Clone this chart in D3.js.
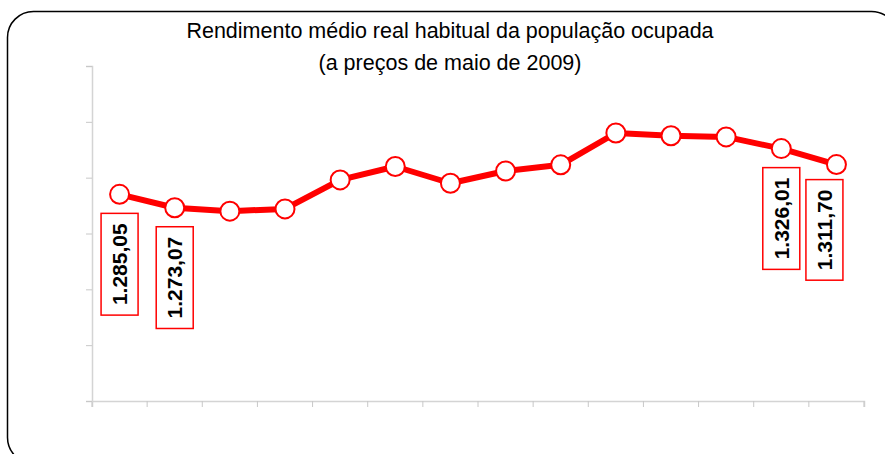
<!DOCTYPE html>
<html>
<head>
<meta charset="utf-8">
<script src="https://cdn.jsdelivr.net/npm/d3@7"></script>
<style>
  body { margin: 0; background: #fff; }
  svg { display: block; }
</style>
</head>
<body>
<div id="chart"></div>
<script>
// data
var titleLines = ["Rendimento médio real habitual da população ocupada", "(a preços de maio de 2009)"];
var periods = ["p1","p2","p3","p4","p5","p6","p7","p8","p9","p10","p11","p12","p13","p14"];
var values = [1285.05, 1273.07, 1270, 1272, 1298, 1310, 1295, 1306, 1311.5, 1340, 1337.5, 1336.5, 1326.01, 1311.70];
var yTicks = [1100, 1150, 1200, 1250, 1300, 1350, 1400];
// which points get a value box, and the printed text
var labelIndex = [0, 1, 12, 13];
var labelText = ["1.285,05", "1.273,07", "1.326,01", "1.311,70"];

// specs
var width = 885;
var height = 454;
var marginLeft = 92;
var marginRight = 21;
var marginTop = 66;
var marginBottom = 53;

var svg = d3.select("#chart")
  .append("svg")
  .attr("width", width)
  .attr("height", height);

// rounded frame
svg.append("rect")
  .attr("x", 7.5)
  .attr("y", 11.5)
  .attr("width", 890)
  .attr("height", 452)
  .attr("rx", 26)
  .attr("fill", "none")
  .attr("stroke", "#000")
  .attr("stroke-width", 1.5);

// title
svg.append("text")
  .attr("x", 450)
  .attr("y", 38)
  .attr("text-anchor", "middle")
  .style("font-family", "Liberation Sans, Arial, sans-serif")
  .style("font-size", "21.5px")
  .selectAll("tspan")
  .data(titleLines)
  .enter()
  .append("tspan")
  .attr("x", 450)
  .attr("dy", function(d, i){ return i === 0 ? 0 : 32; })
  .text(function(d){ return d; });

// scales
var xScale = d3.scaleBand()
  .domain(periods)
  .range([marginLeft, width - marginRight]);

var yScale = d3.scaleLinear()
  .domain([1100, 1400])
  .range([height - marginBottom, marginTop]);

// axes
var xAxis = d3.axisBottom(xScale)
  .tickSize(6)
  .tickFormat("");
var yAxis = d3.axisLeft(yScale)
  .tickValues(yTicks)
  .tickSize(6)
  .tickFormat("");

var gx = svg.append("g")
  .attr("transform", "translate(0," + (height - marginBottom) + ")")
  .call(xAxis);
// ticks between categories, like the original
gx.selectAll(".tick").remove();
gx.selectAll(".sep")
  .data(periods.concat(["end"]))
  .enter()
  .append("line")
  .attr("x1", function(d, i){ return i < periods.length ? xScale(d) : xScale.range()[1]; })
  .attr("x2", function(d, i){ return i < periods.length ? xScale(d) : xScale.range()[1]; })
  .attr("y1", 0)
  .attr("y2", 6)
  .attr("stroke", "#c8c8c8")
  .attr("stroke-width", 1);

var gy = svg.append("g")
  .attr("transform", "translate(" + marginLeft + ",0)")
  .call(yAxis);

svg.selectAll(".domain").attr("stroke", "#d4d4d4").attr("stroke-width", 1.5);
gy.selectAll(".tick line").attr("stroke", "#c8c8c8");

// line
var line = d3.line()
  .x(function(d, i){ return xScale(periods[i]) + xScale.bandwidth() / 2; })
  .y(function(d){ return yScale(d); });

svg.append("path")
  .datum(values)
  .attr("d", line)
  .attr("fill", "none")
  .attr("stroke", "#ff0000")
  .attr("stroke-width", 6)
  .attr("stroke-linejoin", "round");

svg.selectAll("circle")
  .data(values)
  .enter()
  .append("circle")
  .attr("cx", function(d, i){ return xScale(periods[i]) + xScale.bandwidth() / 2; })
  .attr("cy", function(d){ return yScale(d); })
  .attr("r", 9.5)
  .attr("fill", "#fff")
  .attr("stroke", "#ff0000")
  .attr("stroke-width", 2);

// value boxes (vertical text)
var labels = svg.selectAll(".vlabel")
  .data(labelIndex)
  .enter()
  .append("g")
  .attr("class", "vlabel")
  .attr("transform", function(d, k){
    var cx = xScale(periods[d]) + xScale.bandwidth() / 2;
    var gap = 19;
    if (d === periods.length - 1) { cx -= 12; gap = 15; }
    return "translate(" + cx + "," + (yScale(values[d]) + gap) + ")";
  });

labels.each(function(d, k){
  var g = d3.select(this);
  var t = g.append("text")
    .attr("transform", "rotate(-90)")
    .attr("text-anchor", "end")
    .attr("x", -10)
    .attr("y", 7.5)
    .style("font-family", "Liberation Sans, Arial, sans-serif")
    .style("font-weight", "bold")
    .style("font-size", "21px")
    .text(labelText[k]);
  var len = t.node().getComputedTextLength();
  g.insert("rect", "text")
    .attr("x", -18.5)
    .attr("y", 0)
    .attr("width", 37)
    .attr("height", len + 20)
    .attr("fill", "#fff")
    .attr("stroke", "#ff0000")
    .attr("stroke-width", 1.5);
});
</script>
</body>
</html>
